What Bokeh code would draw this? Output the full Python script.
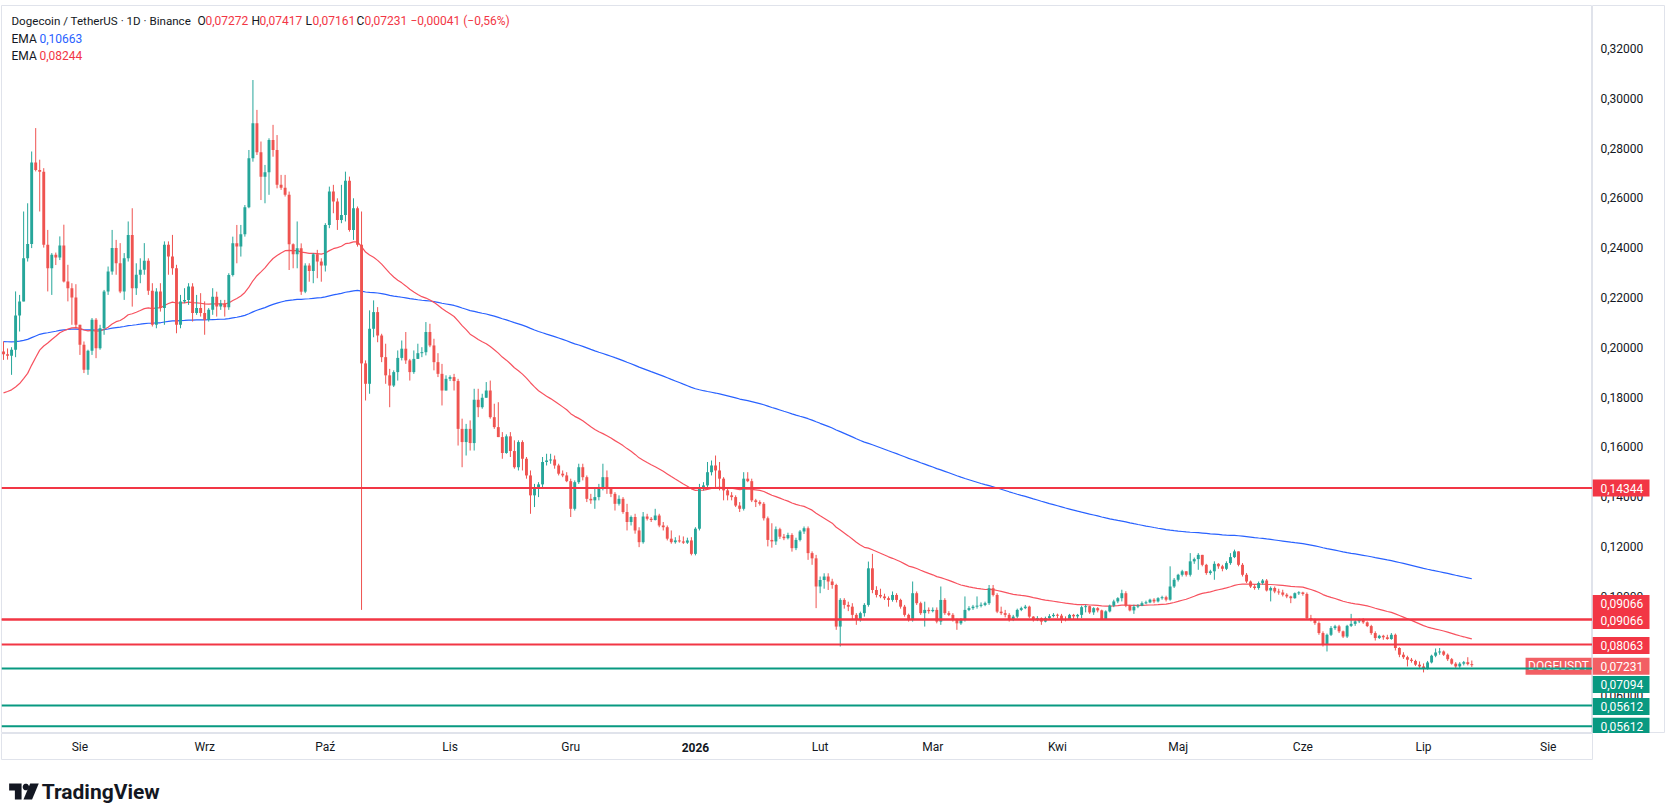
import numpy as np
import pandas as pd
from bokeh.plotting import figure
from bokeh.layouts import column, row
from bokeh.models import ColumnDataSource, Range1d, Span, Label
from bokeh.core.properties import value
from bokeh.embed import file_html
from bokeh.resources import INLINE

# ---------------- data ----------------
start_date = "2025-07-13"
first_open = 0.1983

closes = [
    .1972, .1966, .1990, .2127, .2184, .2357, .2414, .2742, .2712, .2705,
    .2411, .2317, .2371, .2360, .2408, .2264, .2237, .2200, .2090, .2010,
    .1909, .1986, .2110, .1996, .2076, .2224, .2304, .2398, .2337, .2224,
    .2357, .2451, .2237, .2291, .2311, .2347, .2227, .2090, .2224, .2157,
    .2411, .2364, .2317, .2090, .2184, .2190, .2244, .2137, .2157, .2137,
    .2110, .2150, .2203, .2163, .2176, .2160, .2290, .2417, .2404, .2454,
    .2562, .2759, .2899, .2783, .2685, .2703, .2832, .2792, .2652, .2640,
    .2612, .2413, .2373, .2397, .2223, .2328, .2306, .2373, .2344, .2328,
    .2491, .2625, .2585, .2511, .2531, .2668, .2471, .2558, .2411, .1935,
    .1853, .2074, .2141, .2047, .1960, .1887, .1846, .1900, .1957, .1994,
    .1947, .1900, .1953, .1976, .1980, .2061, .2007, .1940, .1893, .1826,
    .1873, .1880, .1864, .1672, .1619, .1672, .1615, .1789, .1759, .1797,
    .1826, .1719, .1679, .1639, .1575, .1642, .1583, .1518, .1619, .1552,
    .1485, .1405, .1431, .1449, .1539, .1545, .1549, .1525, .1492, .1485,
    .1462, .1351, .1458, .1518, .1478, .1391, .1385, .1398, .1431, .1478,
    .1431, .1411, .1371, .1391, .1338, .1298, .1318, .1264, .1217, .1320,
    .1311, .1306, .1324, .1284, .1277, .1231, .1217, .1224, .1220, .1215,
    .1224, .1170, .1271, .1438, .1445, .1498, .1525, .1505, .1472, .1425,
    .1405, .1398, .1364, .1351, .1472, .1462, .1385, .1378, .1371, .1313,
    .1226, .1220, .1269, .1239, .1233, .1246, .1193, .1226, .1260, .1273,
    .1173, .1152, .1039, .1065, .1079, .1059, .1045, .0878, .0985, .0965,
    .0958, .0925, .0905, .0932, .0965, .1112, .1025, .1005, .0999, .0992,
    .0985, .1005, .0985, .0958, .0925, .0905, .1012, .0972, .0932, .0945,
    .0940, .0945, .0898, .0985, .0932, .0925, .0905, .0891, .0905, .0945,
    .0952, .0958, .0962, .0965, .0972, .1032, .1005, .0938, .0932, .0925,
    .0905, .0918, .0945, .0952, .0958, .0918, .0905, .0912, .0898, .0912,
    .0920, .0925, .0922, .0908, .0905, .0925, .0919, .0925, .0956, .0960,
    .0935, .0952, .0943, .0908, .0939, .0962, .0979, .0992, .1012, .0962,
    .0943, .0958, .0962, .0972, .0975, .0986, .0979, .0992, .0996, .0986,
    .1039, .1066, .1086, .1100, .1086, .1140, .1149, .1166, .1126, .1093,
    .1100, .1130, .1120, .1110, .1133, .1157, .1180, .1126, .1086, .1059,
    .1039, .1033, .1053, .1063, .1023, .1033, .1019, .1015, .1006, .0999,
    .0992, .1012, .1015, .1009, .0912, .0908, .0892, .0852, .0805, .0845,
    .0872, .0879, .0859, .0838, .0881, .0889, .0899, .0905, .0895, .0880,
    .0852, .0832, .0841, .0835, .0828, .0845, .0792, .0765, .0755, .0745,
    .0740, .0725, .0718, .0711, .0734, .0761, .0774, .0778, .0765, .0747,
    .0729, .0718, .0729, .0735, .07272, .07231,
]

highs = [
    .2023, .1995, .2000, .2224, .2210, .2545, .2578, .2786, .2880, .2753,
    .2719, .2471, .2378, .2380, .2445, .2492, .2331, .2257, .2253, .2090,
    .2023, .1990, .2117, .2117, .2090, .2230, .2324, .2471, .2431, .2418,
    .2378, .2505, .2558, .2337, .2357, .2418, .2357, .2257, .2237, .2257,
    .2425, .2425, .2451, .2331, .2210, .2237, .2257, .2257, .2210, .2217,
    .2184, .2157, .2237, .2223, .2190, .2190, .2297, .2444, .2491, .2491,
    .2571, .2792, .3073, .2953, .2826, .2732, .2839, .2893, .2852, .2692,
    .2692, .2625, .2417, .2505, .2417, .2337, .2337, .2378, .2391, .2357,
    .2498, .2645, .2652, .2598, .2652, .2705, .2685, .2598, .2565, .2545,
    .1947, .2148, .2188, .2161, .2054, .2014, .1913, .1907, .1987, .2027,
    .2061, .1953, .1987, .2014, .2000, .2101, .2094, .2034, .1976, .1933,
    .1887, .1887, .1893, .1873, .1713, .1692, .1706, .1833, .1833, .1813,
    .1860, .1866, .1773, .1779, .1659, .1650, .1659, .1626, .1626, .1626,
    .1559, .1505, .1451, .1458, .1559, .1572, .1572, .1565, .1532, .1505,
    .1498, .1472, .1465, .1532, .1532, .1485, .1411, .1431, .1451, .1532,
    .1505, .1438, .1418, .1405, .1398, .1371, .1324, .1331, .1277, .1338,
    .1331, .1318, .1351, .1331, .1298, .1284, .1264, .1237, .1244, .1240,
    .1235, .1237, .1277, .1451, .1458, .1539, .1545, .1565, .1539, .1478,
    .1431, .1418, .1405, .1378, .1498, .1498, .1472, .1391, .1385, .1378,
    .1320, .1293, .1280, .1275, .1250, .1255, .1253, .1235, .1266, .1280,
    .1280, .1180, .1166, .1079, .1092, .1092, .1070, .1050, .0992, .0992,
    .0978, .0972, .0932, .0938, .0972, .1139, .1170, .1040, .1030, .1010,
    .0999, .1019, .1012, .0990, .0965, .0930, .1059, .1019, .0978, .0978,
    .0955, .0955, .0955, .1039, .0992, .0940, .0932, .0910, .0912, .0999,
    .0960, .0965, .0999, .0975, .0978, .1045, .1045, .1012, .0958, .0945,
    .0932, .0925, .0950, .0958, .0965, .0962, .0920, .0920, .0915, .0918,
    .0928, .0932, .0930, .0929, .0919, .0929, .0929, .0929, .0962, .0966,
    .0962, .0956, .0956, .0946, .0943, .0966, .0986, .0996, .1026, .1020,
    .0966, .0966, .0968, .0979, .0982, .0990, .0992, .0996, .1002, .1002,
    .1120, .1073, .1090, .1106, .1100, .1173, .1155, .1173, .1166, .1130,
    .1106, .1140, .1133, .1126, .1140, .1173, .1187, .1166, .1133, .1093,
    .1063, .1046, .1059, .1069, .1069, .1039, .1039, .1030, .1026, .1012,
    .1002, .1015, .1020, .1018, .1015, .0925, .0910, .0899, .0859, .0850,
    .0880, .0885, .0885, .0862, .0885, .0929, .0905, .0910, .0912, .0899,
    .0885, .0859, .0845, .0845, .0845, .0852, .0850, .0795, .0775, .0761,
    .0752, .0745, .0738, .0730, .0740, .0765, .0790, .0792, .0782, .0770,
    .0752, .0735, .0735, .0740, .0755, .07417,
]

lows = [
    .1949, .1950, .1889, .1960, .2063, .2184, .2344, .2398, .2706, .2545,
    .2400, .2224, .2210, .2330, .2350, .2260, .2184, .2090, .2076, .1969,
    .1896, .1889, .1969, .1956, .1990, .2050, .2210, .2291, .2291, .2217,
    .2190, .2344, .2163, .2210, .2257, .2291, .2210, .2083, .2076, .2143,
    .2090, .2291, .2291, .2056, .2076, .2177, .2170, .2103, .2130, .2123,
    .2050, .2103, .2130, .2123, .2150, .2123, .2150, .2284, .2337, .2364,
    .2444, .2558, .2745, .2772, .2591, .2578, .2612, .2765, .2638, .2632,
    .2605, .2310, .2317, .2317, .2210, .2217, .2263, .2257, .2277, .2263,
    .2304, .2478, .2538, .2471, .2498, .2505, .2464, .2431, .2404, .0945,
    .1786, .1813, .2040, .2020, .1940, .1853, .1759, .1840, .1866, .1947,
    .1933, .1866, .1893, .1953, .1960, .1967, .2000, .1907, .1880, .1766,
    .1826, .1864, .1826, .1605, .1518, .1565, .1585, .1585, .1719, .1753,
    .1797, .1713, .1672, .1639, .1552, .1572, .1559, .1512, .1505, .1505,
    .1472, .1331, .1358, .1398, .1438, .1525, .1532, .1512, .1485, .1478,
    .1458, .1318, .1344, .1451, .1465, .1378, .1371, .1351, .1385, .1425,
    .1411, .1398, .1344, .1364, .1331, .1264, .1284, .1251, .1197, .1211,
    .1304, .1298, .1304, .1277, .1264, .1224, .1211, .1211, .1215, .1210,
    .1210, .1164, .1164, .1264, .1425, .1431, .1485, .1438, .1425, .1385,
    .1385, .1385, .1358, .1338, .1344, .1458, .1378, .1358, .1364, .1304,
    .1200, .1195, .1206, .1230, .1225, .1228, .1179, .1185, .1220, .1250,
    .1146, .1126, .0952, .1012, .1030, .1025, .1030, .0865, .0798, .0950,
    .0940, .0905, .0885, .0898, .0918, .0958, .1012, .0995, .0992, .0985,
    .0958, .0978, .0975, .0950, .0918, .0898, .0898, .0965, .0925, .0878,
    .0930, .0935, .0891, .0885, .0925, .0920, .0898, .0865, .0885, .0898,
    .0940, .0945, .0950, .0955, .0960, .0965, .0999, .0932, .0925, .0915,
    .0898, .0900, .0912, .0940, .0948, .0912, .0898, .0900, .0885, .0895,
    .0905, .0915, .0912, .0892, .0899, .0905, .0905, .0908, .0912, .0935,
    .0929, .0925, .0935, .0905, .0905, .0935, .0956, .0972, .0979, .0956,
    .0939, .0929, .0952, .0960, .0968, .0972, .0972, .0975, .0986, .0979,
    .0982, .1033, .1059, .1079, .1079, .1079, .1130, .1106, .1120, .1086,
    .1086, .1066, .1110, .1100, .1105, .1126, .1153, .1120, .1079, .1053,
    .1033, .1026, .1026, .1046, .1019, .0979, .1012, .1006, .0999, .0992,
    .0972, .0990, .1005, .1002, .0908, .0899, .0885, .0845, .0798, .0778,
    .0840, .0865, .0852, .0832, .0832, .0876, .0881, .0892, .0889, .0876,
    .0845, .0822, .0828, .0825, .0825, .0825, .0782, .0755, .0748, .0718,
    .0733, .0720, .0712, .0694, .0705, .0730, .0755, .0765, .0760, .0740,
    .0725, .0712, .0712, .0722, .0722, .07161,
]

ema_slow_len, ema_slow_seed = 200, 0.2023
ema_fast_len, ema_fast_seed = 50, 0.1810

red_levels = [0.14344, 0.09066, 0.09066, 0.08063]
green_levels = [0.07094, 0.05612, 0.0478]

price_ticks = [0.06, 0.08, 0.10, 0.12, 0.14, 0.16, 0.18, 0.20,
               0.22, 0.24, 0.26, 0.28, 0.30, 0.32]

month_starts = ["2025-08-01", "2025-09-01", "2025-10-01", "2025-11-01", "2025-12-01",
                "2026-01-01", "2026-02-01", "2026-03-01", "2026-04-01", "2026-05-01",
                "2026-06-01", "2026-07-01", "2026-08-01"]
month_labels = ["Sie", "Wrz", "Paź", "Lis", "Gru", "2026", "Lut", "Mar", "Kwi",
                "Maj", "Cze", "Lip", "Sie"]

# axis tags
tag_texts = ["0,14344", "0,09066", "0,09066", "0,08063", "0,07231", "0,07094", "0,05612", "0,05612"]
tag_levels = [0.14344, 0.09066, 0.09066, 0.08063, closes[-1], 0.07094, 0.05612, 0.0478]

# ---------------- derived ----------------
n = len(closes)
assert len(highs) == n and len(lows) == n, (n, len(highs), len(lows))
start = pd.Timestamp(start_date)
x = np.arange(n)
o = np.array([first_open] + closes[:-1]); c = np.array(closes)
hi = np.maximum(np.array(highs), np.maximum(o, c))
lo = np.minimum(np.array(lows), np.minimum(o, c))
up = c >= o
top = np.maximum(o, c); bot = np.minimum(o, c)
mid = (top + bot) / 2
thin = (top - bot) < 0.0004
top = np.where(thin, mid + 0.0002, top)
bot = np.where(thin, mid - 0.0002, bot)

UP, DN = "#26a69a", "#ef5350"
col = np.where(up, UP, DN)


def ema(vals, length, seed):
    a = 2.0 / (length + 1)
    e = seed
    out = []
    for v in vals:
        e = a * v + (1 - a) * e
        out.append(e)
    return out


ema_slow = ema(closes, ema_slow_len, ema_slow_seed)
ema_fast = ema(closes, ema_fast_len, ema_fast_seed)
src = ColumnDataSource(dict(x=x, top=top, bot=bot, hi=hi, lo=lo, col=col))
month_ticks = [int((pd.Timestamp(d) - start).days) for d in month_starts]

FONT = "Roboto"
TXT = "#131722"
BORDER = "#e0e3eb"
RED = "#f23645"
GREEN = "#089981"
LAST = "#f25f64"

W_PANE, H_PANE = 1592, 733
x_range = Range1d(-0.5, 395.0)
y_range = Range1d(0.04486, 0.33723)
PX = (y_range.end - y_range.start) / (H_PANE - 5)   # price per pixel


def base(**kw):
    f = figure(output_backend="svg", toolbar_location=None,
               x_axis_location=None, y_axis_location=None, **kw)
    f.grid.visible = False
    f.background_fill_color = "white"
    f.border_fill_color = "white"
    return f


# ---------------- main pane ----------------
p = base(width=W_PANE, height=H_PANE, x_range=x_range, y_range=y_range,
         min_border_left=1, min_border_right=0, min_border_top=5, min_border_bottom=0)
p.outline_line_color = BORDER

p.line(x, ema_slow, line_color="#2962ff", line_width=1.2)
p.line(x, ema_fast, line_color="#f7525f", line_width=1.2)
p.segment(x0="x", y0="lo", x1="x", y1="hi", line_color="col", line_width=1, source=src)
p.vbar(x="x", width=0.72, top="top", bottom="bot", fill_color="col", line_color=None, source=src)

for v in red_levels:
    p.add_layout(Span(location=v, dimension="width", line_color=RED, line_width=2))
for v in green_levels:
    p.add_layout(Span(location=v, dimension="width", line_color=GREEN, line_width=2))

# symbol tag next to the price axis
sym_x = (1557 - 3) / 4.02
p.rect(x=[sym_x], y=[closes[-1] - 1 * PX], width=66, height=17,
       width_units="screen", height_units="screen", fill_color=LAST, line_color=None)
p.text(x=[sym_x], y=[closes[-1] - 1 * PX], text=["DOGEUSDT"], text_color="white",
       text_font=value(FONT), text_font_size="12px", text_align="center", text_baseline="middle")

# legend header
header = [("Dogecoin / TetherUS · 1D · Binance", 11, 20, TXT, "11.6px"),
          ("O", 197, 20, TXT, "12px"), ("0,07272", 205, 20, RED, "12px"),
          ("H", 251, 20, TXT, "12px"), ("0,07417", 259, 20, RED, "12px"),
          ("L", 305, 20, TXT, "12px"), ("0,07161", 312, 20, RED, "12px"),
          ("C", 356, 20, TXT, "12px"), ("0,07231", 364, 20, RED, "12px"),
          ("−0,00041 (−0,56%)", 410, 20, RED, "12px"),
          ("EMA", 11, 38, TXT, "12px"), ("0,10663", 39, 38, "#2962ff", "12px"),
          ("EMA", 11, 55, TXT, "12px"), ("0,08244", 39, 55, RED, "12px")]
for txt, px, py, colr, fs in header:
    p.add_layout(Label(x=px, y=py, x_units="canvas", y_units="canvas", text=txt,
                       text_font=FONT, text_font_size=fs, text_color=colr,
                       text_baseline="middle", text_align="left"))

# ---------------- price axis column ----------------
pa = base(width=1665 - W_PANE, height=H_PANE, x_range=Range1d(0, 1665 - W_PANE), y_range=y_range,
          min_border_left=0, min_border_right=0, min_border_top=5, min_border_bottom=0)
pa.outline_line_color = BORDER
pa.text(x=[8] * len(price_ticks), y=price_ticks,
        text=[f"{t:.5f}".replace(".", ",") for t in price_ticks],
        text_color=TXT, text_font=value(FONT), text_font_size="12px",
        text_align="left", text_baseline="middle")
tag_colors = [RED, RED, RED, RED, LAST, GREEN, GREEN, GREEN]
tag_shift = [0, 16, -1, -1, -1, -16, -1, 0]
tag_y = [v + s * PX for v, s in zip(tag_levels, tag_shift)]
pa.rect(x=[28.5] * len(tag_y), y=tag_y, width=57, height=17, height_units="screen",
        fill_color=tag_colors, line_color=None)
pa.text(x=[8] * len(tag_y), y=tag_y, text=tag_texts, text_color="white",
        text_font=value(FONT), text_font_size="12px", text_align="left", text_baseline="middle")

# ---------------- time axis row ----------------
ta = base(width=1665, height=27, x_range=x_range, y_range=Range1d(0, 1),
          min_border_left=1, min_border_right=1665 - W_PANE, min_border_top=0, min_border_bottom=0)
ta.outline_line_color = BORDER
ta.text(x=month_ticks, y=[0.5] * len(month_ticks), text=month_labels,
        text_color=TXT, text_font=value(FONT), text_font_size="12px",
        text_font_style=["bold" if m == "2026" else "normal" for m in month_labels],
        text_align="center", text_baseline="middle")

# ---------------- footer with logo ----------------
ft = base(width=1665, height=812 - H_PANE - 27, x_range=Range1d(0, 1665), y_range=Range1d(52, 0),
          min_border_left=0, min_border_right=0, min_border_top=0, min_border_bottom=0)
ft.outline_line_color = None
ang = np.linspace(0, 2 * np.pi, 20, endpoint=False)
ft.patches(xs=[[8, 21, 21, 14, 14, 8],
               list(25.5 + 3.3 * np.cos(ang)),
               [30, 39, 32, 23]],
           ys=[[23, 23, 39, 39, 30, 30],
               list(26.5 + 3.3 * np.sin(ang)),
               [23, 23, 39, 39]],
           fill_color=TXT, line_color=None)
ft.text(x=[42], y=[31], text=["TradingView"], text_color=TXT, text_font=value(FONT),
        text_font_size="21px", text_font_style="bold", text_align="left", text_baseline="middle")

layout = column(row(p, pa), ta, ft)
open("out.html", "w").write(file_html(layout, INLINE))
